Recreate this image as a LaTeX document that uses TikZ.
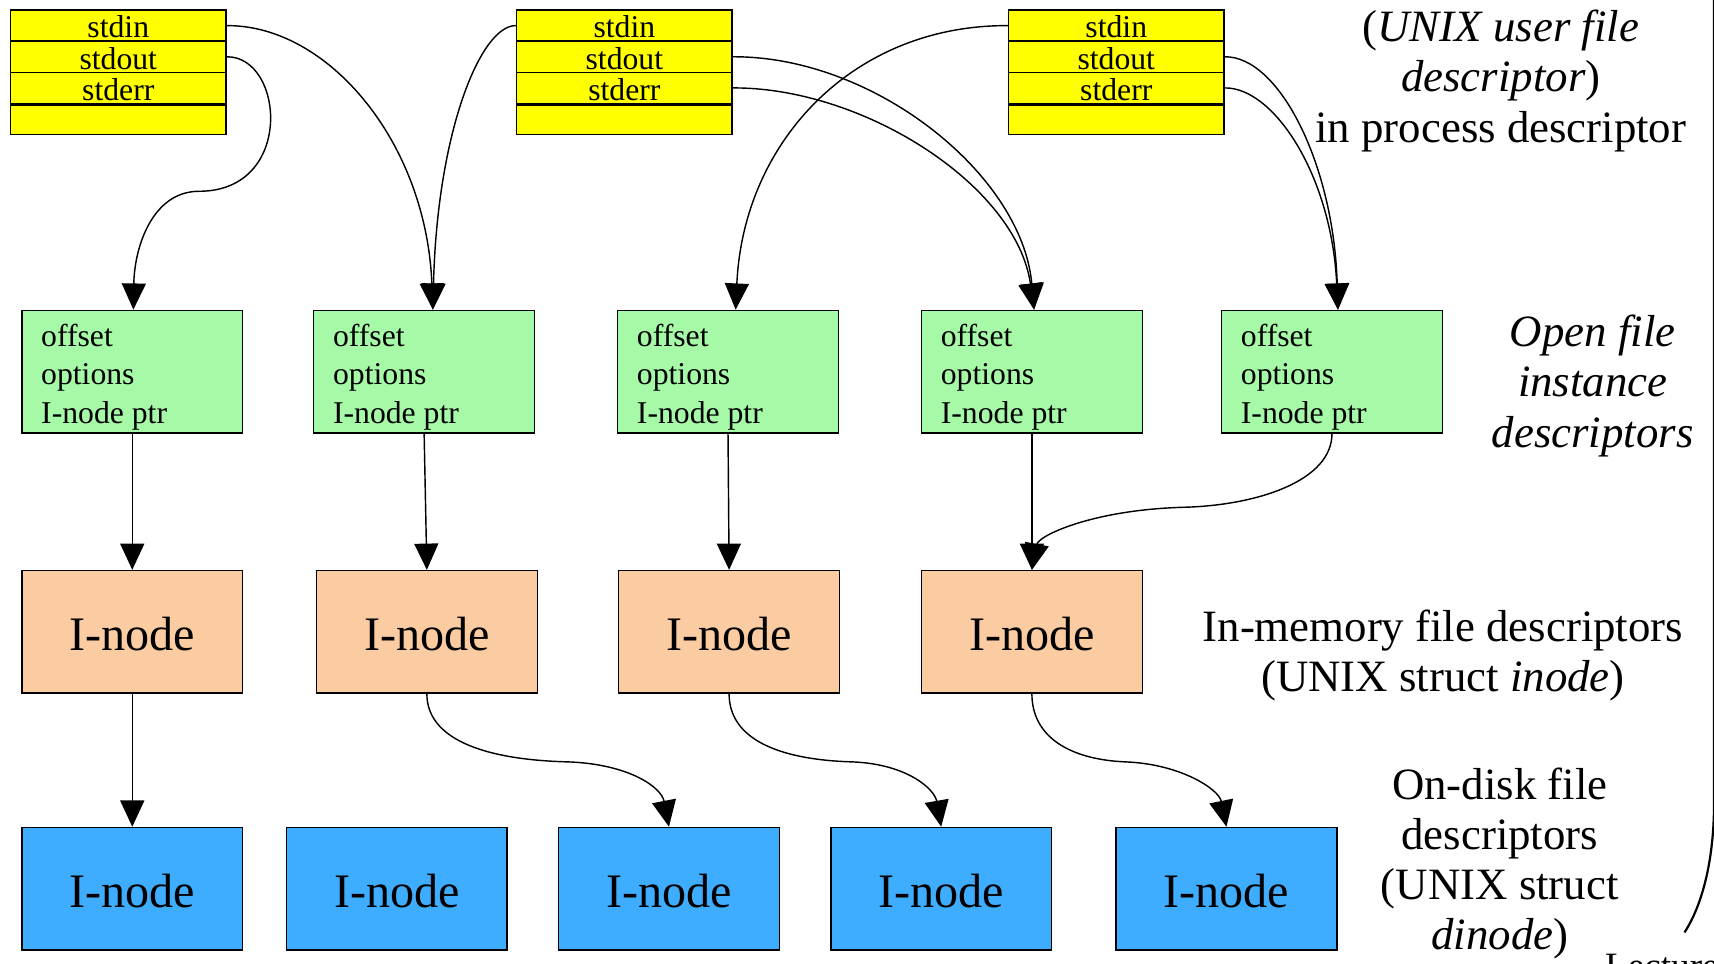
\documentclass[tikz,border=0pt]{standalone}
\usepackage{fontspec}
\setmainfont{Liberation Serif}
\usetikzlibrary{arrows.meta,calc}
\definecolor{ycol}{RGB}{255,255,0}
\definecolor{gcol}{RGB}{166,249,166}
\definecolor{ocol}{RGB}{251,203,161}
\definecolor{bcol}{RGB}{62,173,255}
\tikzset{
  ybox/.style={draw, line width=0.7pt, fill=ycol, minimum width=98.5pt, minimum height=14.25pt,
    inner sep=0pt, anchor=north west, text height=11.3pt, text depth=0pt, font=\fontsize{14.5}{17}\selectfont},
  gbox/.style={draw, line width=0.7pt, fill=gcol, minimum width=101pt, minimum height=56pt, inner sep=0pt},
  obox/.style={draw, line width=0.7pt, fill=ocol, minimum width=101pt, minimum height=56pt, inner sep=0pt,
    text height=17pt, text depth=0pt, font=\fontsize{22}{26}\selectfont},
  bbox/.style={draw, line width=0.7pt, fill=bcol, minimum width=101pt, minimum height=56pt, inner sep=0pt,
    text height=17.4pt, text depth=0pt, font=\fontsize{22}{26}\selectfont},
  gtext/.style={anchor=base west, inner sep=0pt, font=\fontsize{14.5}{17}\selectfont},
  lab/.style={anchor=base, inner sep=0pt, font=\fontsize{20.5}{23}\selectfont},
  conn/.style={-{Triangle[width=11pt,length=12pt]}, line width=0.65pt},
}
\newcommand\mkgreen[2]{%
  \node[gbox] (#1) at (#2,340) {};
  \node[gtext] (#1a) at ($(#1.north west)+(18,33.6)$) {offset};
  \node[gtext] (#1b) at ($(#1.north west)+(18,68)$) {options};
  \node[gtext] (#1c) at ($(#1.north west)+(18,104)$) {I-node ptr};
}
\newcommand\mkyellow[2]{%
  \node[ybox] (#1in) at (#2,8.5) {stdin};
  \node[ybox] (#1out) at (#2,37) {stdout};
  \node[ybox] (#1err) at (#2,65.5) {stderr};
  \node[ybox] (#1emp) at (#2,94) {};
  \draw[line width=1.6pt] (#1err.south west) -- (#1err.south east);
}
\begin{document}
\begin{tikzpicture}[x=0.5pt,y=-0.5pt]
\useasboundingbox (0,0) rectangle (1568,881);
\fill[white] (0,0) rectangle (1568,881);

% process descriptor tables
\mkyellow{t1}{9}
\mkyellow{t2}{472}
\mkyellow{t3}{922}

% open file instance descriptors
\mkgreen{g1}{121}
\mkgreen{g2}{388}
\mkgreen{g3}{666}
\mkgreen{g4}{944}
\mkgreen{g5}{1218.5}

% in-memory inodes
\node[obox] (o1) at (121,578) {I-node};
\node[obox] (o2) at (390.5,578) {I-node};
\node[obox] (o3) at (667,578) {I-node};
\node[obox] (o4) at (944,578) {I-node};

% on-disk inodes
\node[bbox] (b1) at (121,813) {I-node};
\node[bbox] (b2) at (363,813) {I-node};
\node[bbox] (b3) at (612,813) {I-node};
\node[bbox] (b4) at (861,813) {I-node};
\node[bbox] (b5) at (1122,813) {I-node};

% yellow -> green
\draw[conn] (t1in.east) .. controls (300,22.75) and (390,130) .. ([xshift=4pt]g2.north);
\draw[conn] (t1out.east) .. controls (260,51.25) and (270,175) .. (182,175) .. controls (140,175) and (123,225) .. ([xshift=0.5pt]g1.north);
\draw[conn] (t2in.west) .. controls (440,22.75) and (400,120) .. ([xshift=4pt]g2.north);
\draw[conn] (t2out.east) .. controls (800,51.25) and (935,160) .. ([xshift=1pt]g4.north);
\draw[conn] (t2err.east) .. controls (790,79.75) and (930,170) .. ([xshift=1pt]g4.north);
\draw[conn] (t3in.west) .. controls (780,22.75) and (680,130) .. ([xshift=3.5pt]g3.north);
\draw[conn] (t3out.east) .. controls (1170,51.25) and (1220,150) .. ([xshift=2.75pt]g5.north);
\draw[conn] (t3err.east) .. controls (1165,79.75) and (1218,160) .. ([xshift=2.75pt]g5.north);

% green -> orange
\draw[conn] (g1.south) -- (o1.north);
\draw[conn] (g2.south) -- (o2.north);
\draw[conn] (g3.south) -- (o3.north);
\draw[conn] (g4.south) -- (o4.north);
\draw[conn] (g5.south) .. controls (1218.5,440) and (1150,462) .. (1085,464) .. controls (1000,466) and (950,490) .. (o4.north);

% orange -> blue
\draw[conn] (o1.south) -- (b1.north);
\draw[conn] (o2.south) .. controls (390.5,675) and (440,695) .. (520,697) .. controls (575,699) and (605,720) .. (b3.north);
\draw[conn] (o3.south) .. controls (667,675) and (710,695) .. (780,697) .. controls (830,699) and (855,722) .. (b4.north);
\draw[conn] (o4.south) .. controls (944,675) and (980,695) .. (1030,697) .. controls (1080,699) and (1115,722) .. (b5.north);

% right-hand labels
\node[lab] (l1a) at (1373,38) {(\textit{UNIX user file}};
\node[lab] (l1b) at (1373,84) {\textit{descriptor})};
\node[lab] (l1c) at (1373,130) {in process descriptor};
\node[lab] (l2a) at (1457,317) {\textit{Open file}};
\node[lab] (l2b) at (1457,363) {\textit{instance}};
\node[lab] (l2c) at (1457,409) {\textit{descriptors}};
\node[lab] (l3a) at (1320,587) {In-memory file descriptors};
\node[lab] (l3b) at (1320,633) {(UNIX struct \textit{inode})};
\node[lab] (l4a) at (1372,731) {On-disk file};
\node[lab] (l4b) at (1372,777) {descriptors};
\node[lab] (l4c) at (1372,823) {(UNIX struct};
\node[lab] (l4d) at (1372,869) {\textit{dinode})};

% slide border remnants
\draw[line width=1pt] (1568,-5) -- (1568,735) .. controls (1568,790) and (1556,830) .. (1541,853);
\node[anchor=base west, inner sep=0pt, font=\fontsize{17}{20}\selectfont] (lect) at (1468,895) {Lecture};
\end{tikzpicture}
\end{document}
